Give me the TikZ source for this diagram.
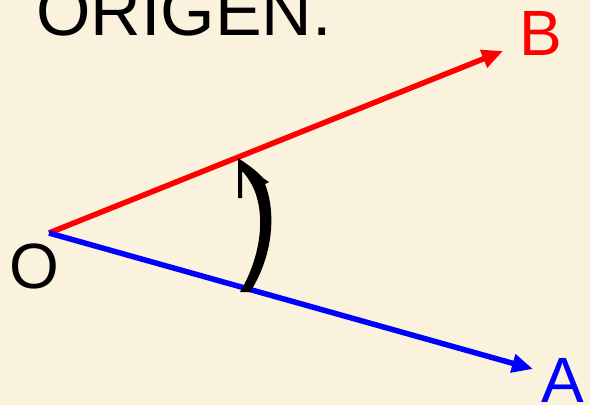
\documentclass[tikz,border=0pt]{standalone}
\usepackage{fontspec}
\setmainfont{Liberation Sans}
\usetikzlibrary{arrows.meta}
\definecolor{paper}{RGB}{251,242,221}
\tikzset{
  ray/.style={line width=5.5pt, -{Triangle[length=21pt,width=18pt]}},
  lbl/.style={anchor=base west, inner sep=0pt, font=\fontsize{64}{64}\selectfont},
}
\begin{document}
\begin{tikzpicture}[x=1pt,y=-1pt]
\fill[paper] (0,0) rectangle (590,405);
\useasboundingbox (0,0) rectangle (590,405);
\begin{scope}
% title
\node[lbl, font=\fontsize{70}{70}\selectfont] (title) at (36,35) {ORIGEN.};
% vertex and rays
\coordinate (O) at (49,233);
\coordinate (tipB) at (503,51);
\coordinate (tipA) at (533,369);
\node[lbl, text=red] (B) at (519,55) {B};
\node[lbl, text=blue] (A) at (541,402) {A};
\node[lbl] (Olbl) at (9,288) {O};
\draw[ray, red] (O) -- (tipB);
\draw[ray, blue] (O) -- (tipA);
% curved arrow from OA to OB
\fill[black] (238,158) .. controls (250,166) and (258,172) .. (263,178)
  -- (269,182) -- (265,184)
  .. controls (277,215) and (272,258) .. (250,292)
  -- (240,292)
  .. controls (262,255) and (266,212) .. (252,185)
  .. controls (248,178) and (245,174) .. (242,171)
  -- (242,198) -- (238,198) -- cycle;
\end{scope}
\end{tikzpicture}
\end{document}
